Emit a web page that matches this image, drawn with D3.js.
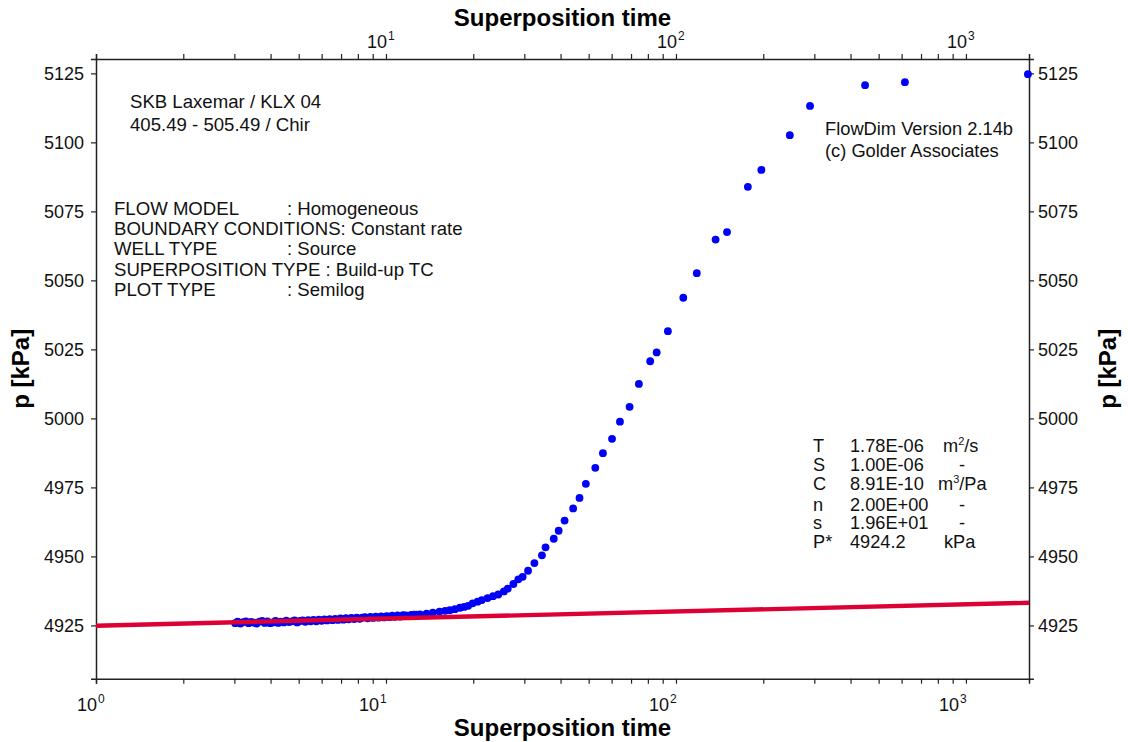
<!DOCTYPE html>
<html>
<head>
<meta charset="utf-8">
<script src="https://cdn.jsdelivr.net/npm/d3@7"></script>
<style>
  html, body { margin: 0; padding: 0; background: #fff; }
  svg { display: block; font-family: "Liberation Sans", Arial, sans-serif; }
</style>
</head>
<body>
<svg id="chart" width="1128" height="742"></svg>
<script>
// Observed pressure during build-up vs superposition time
const obsTime = [
  3.02, 3.08, 3.15, 3.22, 3.29, 3.36, 3.43, 3.51, 3.58, 3.66, 3.74, 3.82, 3.90, 3.99,
  4.07, 4.16, 4.25, 4.34, 4.44, 4.53, 4.63, 4.73, 4.84, 4.94, 5.05, 5.16, 5.27, 5.39,
  5.50, 5.62, 5.75, 5.87, 6.00, 6.13, 6.26, 6.40, 6.54, 6.68, 6.83, 6.97, 7.13, 7.28,
  7.44, 7.60, 7.77, 7.93, 8.11, 8.28, 8.46, 8.65, 8.84, 9.03, 9.22, 9.43, 9.63, 9.84,
  10.06, 10.28, 10.50, 10.73, 10.96, 11.20, 11.45, 11.70, 11.95, 12.21, 12.48, 12.75,
  13.1, 13.8, 14.5, 15.3, 16.0, 16.6, 17.3, 18.0, 18.6, 19.2, 19.9, 20.7, 21.4, 22.4,
  23.4, 24.4, 25.5, 26.3, 27.5, 28.6, 29.6, 30.9, 32.5, 34.5, 35.5, 37.9, 39.4, 41.3,
  44.2, 46.5, 48.9, 52.7, 56.0, 60.2, 64.1, 69.2, 74.5, 81.5, 85.8, 93.8, 106, 118,
  137, 150, 177, 197, 247, 290, 449, 616, 1636
];
const obsPressure = [
  4925.8, 4926.4, 4925.7, 4926.2, 4926.5, 4925.8, 4926.3, 4926.0, 4925.7, 4926.4, 4926.6, 4925.9, 4926.5, 4925.8,
  4926.1, 4926.6, 4925.9, 4926.4, 4926.1, 4926.7, 4926.2, 4926.5, 4926.8, 4926.1, 4926.6, 4926.8, 4926.3, 4926.9,
  4926.5, 4927.0, 4926.5, 4927.1, 4926.7, 4927.2, 4926.8, 4927.3, 4926.9, 4927.4, 4927.0, 4927.5, 4927.1, 4927.6,
  4927.2, 4927.7, 4927.3, 4927.8, 4927.4, 4927.8, 4928.0, 4927.6, 4928.1, 4927.7, 4928.2, 4927.8, 4928.3, 4927.9,
  4928.4, 4928.0, 4928.5, 4928.1, 4928.6, 4928.2, 4928.7, 4928.6, 4928.4, 4928.8, 4928.9, 4928.9,
  4929.0, 4929.3, 4929.6, 4930.0, 4930.3, 4930.5, 4930.9, 4931.4, 4931.7, 4932.1, 4933.0, 4933.6, 4934.2, 4934.9,
  4935.6, 4936.2, 4937.3, 4938.3, 4940.0, 4941.7, 4942.6, 4944.8, 4947.6, 4950.4, 4953.3, 4956.4, 4959.3, 4963.0,
  4967.4, 4971.2, 4976.3, 4982.1, 4987.4, 4992.6, 4998.8, 5004.2, 5012.5, 5020.7, 5023.9, 5031.6, 5043.7, 5052.6,
  5064.8, 5067.5, 5083.9, 5090.0, 5102.6, 5113.2, 5120.7, 5121.8, 5124.7
];

// Semilog straight-line fit
const fitTime = [1, 1650];
const fitPressure = [4924.9, 4933.2];

// Axis ranges and ticks
const xDomain = [1, 1650];
const yDomain = [4905.7, 5130.2];
const yTicks = [4925, 4950, 4975, 5000, 5025, 5050, 5075, 5100, 5125];
const xDecades = [0, 1, 2, 3];

// Annotation text
const titleLines = ["SKB Laxemar / KLX 04", "405.49 - 505.49 / Chir"];
const versionLines = ["FlowDim Version 2.14b", "(c) Golder Associates"];
const modelLabels = ["FLOW MODEL", null, "WELL TYPE", null, "PLOT TYPE"];
const modelValues = [": Homogeneous", "BOUNDARY CONDITIONS: Constant rate", ": Source",
                     "SUPERPOSITION TYPE : Build-up TC", ": Semilog"];
const paramSymbols = ["T", "S", "C", "n", "s", "P*"];
const paramValues = ["1.78E-06", "1.00E-06", "8.91E-10", "2.00E+00", "1.96E+01", "4924.2"];
const paramUnits = [["m", "2", "/s"], ["-"], ["m", "3", "/Pa"], ["-"], ["-"], ["kPa"]];

const svg = d3.select("#chart");
const plot = { left: 96, right: 1029, top: 59, bottom: 678.7 };
const axisColor = "#222";
const font = 18;

const x = d3.scaleLog().domain(xDomain).range([plot.left, plot.right]);
const y = d3.scaleLinear().domain(yDomain).range([plot.bottom, plot.top]);

// Clip marks to the plotting frame
svg.append("defs").append("clipPath").attr("id", "clip")
  .append("rect")
  .attr("x", plot.left).attr("y", plot.top - 6)
  .attr("width", plot.right - plot.left + 6).attr("height", plot.bottom - plot.top + 6);

// Minor + major ticks on the log axis
const logTicks = [];
xDecades.forEach(d => {
  for (let m = 1; m <= 9; m++) {
    const v = m * Math.pow(10, d);
    if (v >= xDomain[0] && v <= xDomain[1]) logTicks.push(v);
  }
});

const xBottom = d3.axisBottom(x).tickValues(logTicks).tickSize(5).tickFormat("");
const xTop = d3.axisTop(x).tickValues(logTicks).tickSize(5).tickFormat("");
const yLeft = d3.axisLeft(y).tickValues(yTicks).tickSize(5).tickFormat("");
const yRight = d3.axisRight(y).tickValues(yTicks).tickSize(5).tickFormat("");

function styleAxis(g) {
  g.select(".domain").attr("stroke", axisColor).attr("stroke-width", 1.5);
  g.selectAll(".tick line").attr("stroke", axisColor).attr("stroke-width", 1.2);
}

svg.append("g").attr("transform", `translate(0,${plot.bottom})`).call(xBottom).call(styleAxis);
svg.append("g").attr("transform", `translate(0,${plot.top})`).call(xTop).call(styleAxis);
svg.append("g").attr("transform", `translate(${plot.left},0)`).call(yLeft).call(styleAxis);
svg.append("g").attr("transform", `translate(${plot.right},0)`).call(yRight).call(styleAxis);

// Power-of-ten tick labels
function decadeLabel(d, baseY, endOffset) {
  const tx = x(Math.pow(10, d));
  svg.append("text").attr("x", tx + endOffset).attr("y", baseY)
    .attr("text-anchor", "end").attr("font-size", font).attr("fill", "#111").text("10");
  svg.append("text").attr("x", tx + endOffset + 1).attr("y", baseY - 8)
    .attr("text-anchor", "start").attr("font-size", 12).attr("fill", "#111").text(d);
}
xDecades.forEach(d => {
  decadeLabel(d, 710.5, d === 0 ? 1 : -7);
  if (d > 0) decadeLabel(d, 48, 1);
});

// Pressure tick labels on both sides
yTicks.forEach(v => {
  svg.append("text").attr("x", 84).attr("y", y(v) + 6.4)
    .attr("text-anchor", "end").attr("font-size", font).attr("fill", "#111").text(v);
  svg.append("text").attr("x", 1038).attr("y", y(v) + 6.4)
    .attr("text-anchor", "start").attr("font-size", font).attr("fill", "#111").text(v);
});

// Axis titles
svg.append("text").attr("x", (plot.left + plot.right) / 2).attr("y", 735.5)
  .attr("text-anchor", "middle").attr("font-size", 24).attr("font-weight", "bold")
  .text("Superposition time");
svg.append("text").attr("x", (plot.left + plot.right) / 2).attr("y", 26)
  .attr("text-anchor", "middle").attr("font-size", 24).attr("font-weight", "bold")
  .text("Superposition time");
[29, 1116].forEach(px => {
  svg.append("text")
    .attr("transform", `translate(${px},${(plot.top + plot.bottom) / 2}) rotate(-90)`)
    .attr("text-anchor", "middle").attr("font-size", 24).attr("font-weight", "bold")
    .text("p [kPa]");
});

// Observed data points
const marks = svg.append("g").attr("clip-path", "url(#clip)");
marks.selectAll("circle").data(d3.range(obsTime.length)).join("circle")
  .attr("cx", i => x(obsTime[i]))
  .attr("cy", i => y(obsPressure[i]))
  .attr("r", 3.9)
  .attr("fill", "#0000f8");

// Fitted semilog line
const line = d3.line().x(i => x(fitTime[i])).y(i => y(fitPressure[i]));
marks.append("path").datum(d3.range(fitTime.length))
  .attr("d", line)
  .attr("fill", "none").attr("stroke", "#dc0035").attr("stroke-width", 4.4);

// Annotations
const textColor = "#111";
const noteFont = 18.6;
const tableFont = 18.2;
titleLines.forEach((t, i) => {
  svg.append("text").attr("x", 130).attr("y", 108 + i * 23.3)
    .attr("font-size", noteFont).attr("fill", textColor).text(t);
});
versionLines.forEach((t, i) => {
  svg.append("text").attr("x", 825).attr("y", 135 + i * 21.7)
    .attr("font-size", 18.3).attr("fill", textColor).text(t);
});
modelValues.forEach((v, i) => {
  const by = 215 + i * 20.2;
  if (modelLabels[i]) {
    svg.append("text").attr("x", 114).attr("y", by).attr("font-size", noteFont)
      .attr("fill", textColor).text(modelLabels[i]);
    svg.append("text").attr("x", 287).attr("y", by).attr("font-size", noteFont)
      .attr("fill", textColor).text(v);
  } else {
    svg.append("text").attr("x", 114).attr("y", by).attr("font-size", noteFont)
      .attr("fill", textColor).text(v);
  }
});

const paramBase = [451.5, 470.5, 490, 510.5, 529, 547.5];
paramSymbols.forEach((s, i) => {
  svg.append("text").attr("x", 813).attr("y", paramBase[i]).attr("font-size", tableFont)
    .attr("fill", textColor).text(s);
  svg.append("text").attr("x", 850).attr("y", paramBase[i]).attr("font-size", tableFont)
    .attr("fill", textColor).text(paramValues[i]);
  const u = paramUnits[i];
  if (u.length === 1) {
    const isDash = u[0] === "-";
    svg.append("text").attr("x", isDash ? 962 : 944).attr("y", paramBase[i])
      .attr("text-anchor", isDash ? "middle" : "start")
      .attr("font-size", tableFont).attr("fill", textColor).text(u[0]);
  } else {
    const t = svg.append("text").attr("x", i === 0 ? 943 : 938).attr("y", paramBase[i])
      .attr("font-size", tableFont).attr("fill", textColor);
    t.append("tspan").text(u[0]);
    t.append("tspan").attr("dy", -7).attr("font-size", 11).text(u[1]);
    t.append("tspan").attr("dy", 7).text(u[2]);
  }
});
</script>
</body>
</html>
